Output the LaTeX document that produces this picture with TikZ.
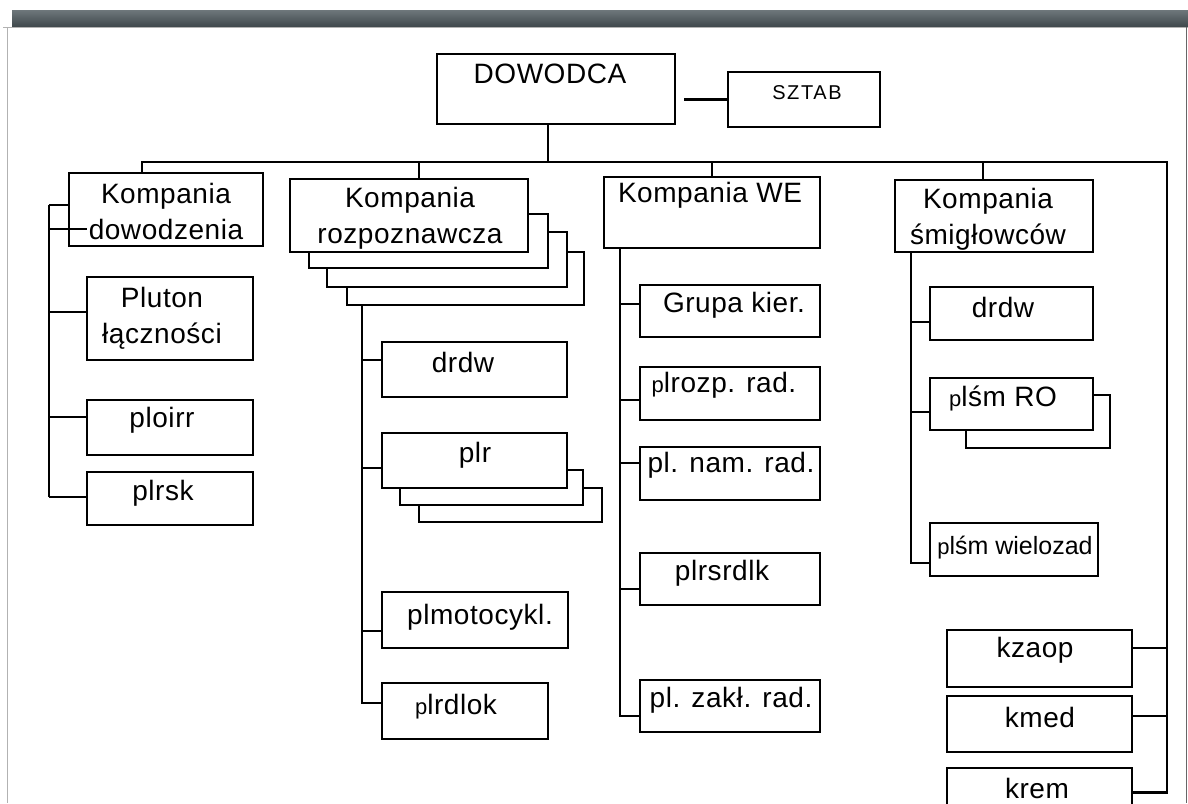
\documentclass[tikz,border=0pt]{standalone}
\usepackage{fontspec}
\setmainfont{Liberation Sans}[LetterSpace=2]
\usetikzlibrary{fit}
\definecolor{bandtop}{HTML}{6E777B}
\definecolor{bandbot}{HTML}{3E474B}
% small lowercase p used in a few unit abbreviations
\newcommand\smallp{{\fontsize{22}{22}\selectfont p}}
\begin{document}
\begin{tikzpicture}[x=1pt,y=-1pt,
  box/.style={draw, line width=2.2pt, fill=white, inner sep=0pt},
  lbl/.style={inner sep=0pt, align=center, font=\fontsize{28}{36}\selectfont},
  wire/.style={line width=2.2pt},
  rim/.style={line width=0.8pt, draw=gray!60}]
\useasboundingbox (0,0) rectangle (1188,803);
\clip (0,0) rectangle (1188,803);

% page header band and frame
\shade[top color=bandtop, bottom color=bandbot] (12,10) rectangle (1188,27);
\draw[rim] (3,27) -- (1188,27);
\draw[rim] (7,27) -- (7,803);
\draw[rim, draw=gray!80!black] (1186,27) -- (1186,803);

% commander and staff
\node[box, fit={(437,54) (675,124)}] (dow) {};
\node[lbl] (dowT) at (550,74) {DOWODCA};
\node[box, fit={(728,72) (880,127)}] (sztab) {};
\node[lbl, font=\fontsize{20}{20}\selectfont\addfontfeature{LetterSpace=8}] (sztabT) at (807,93) {SZTAB};
\draw[wire] ([xshift=8pt]dow.east |- sztab.west) -- (sztab.west);

% companies
\node[box, fit={(69,173) (263,246)}] (kd) {};
\node[lbl] (kdT) at (166,211) {Kompania\\dowodzenia};

\node[box, fit={(347,252) (584,305)}] (krs3) {};
\node[box, fit={(327,232) (567,287)}] (krs2) {};
\node[box, fit={(309,214) (548,268)}] (krs1) {};
\node[box, fit={(290,179) (528,252)}] (kr) {};
\node[lbl] (krT) at (410,218) {Kompania\\rozpoznawcza};

\node[box, fit={(604,177) (820,248)}] (kwe) {};
\node[lbl] (kweT) at (710,195) {Kompania WE};

\node[box, fit={(895,180) (1093,252)}] (ks) {};
\node[lbl] (ksT) at (988,219) {Kompania\\śmigłowców};

% main distribution line
\draw[wire] ([xshift=-8pt]dow.south) -- ([xshift=-8pt]dow.south |- 0,162);
\node[box, fit={(947,630) (1132,687)}] (kzaop) {};
\node[lbl] (kzaopT) at (1035,650) {kzaop};
\node[box, fit={(947,696) (1132,752)}] (kmed) {};
\node[lbl] (kmedT) at (1040,717) {kmed};
\node[box, fit={(947,768) (1132,815)}] (krem) {};
\node[lbl] (kremT) at (1037,788) {krem};
\draw[wire] ([xshift=-24pt]kd.north) |- (1167,162) |- ([yshift=-0.5pt]krem.east |- 0,792);
\draw[wire] ([yshift=10.5pt]kzaop.east) -- ++(35,0);
\draw[wire] ([yshift=8pt]kmed.east) -- ++(35,0);
\draw[wire] ([xshift=10pt]kr.north) -- ++(0,-17);
\draw[wire] (kwe.north) -- ++(0,-15);
\draw[wire] ([xshift=-11pt]ks.north) -- ++(0,-18);

% command company
\node[box, fit={(87,277) (253,360)}] (plu) {};
\node[lbl] (pluT) at (162,318) {Pluton\\łączności};
\node[box, fit={(87,400) (253,455)}] (ploirr) {};
\node[lbl] (ploirrT) at (162,420) {ploirr};
\node[box, fit={(87,472) (253,525)}] (plrsk) {};
\node[lbl] (plrskT) at (163,493) {plrsk};
\draw[wire] ([xshift=-19pt,yshift=4.5pt]kd.west) -- ([yshift=4.5pt]kd.west);
\draw[wire] ([xshift=-19pt,yshift=4.5pt]kd.west) -- ++(0,292);
\draw[wire] ([xshift=-19pt,yshift=-19.5pt]kd.west) -- ++(38,0);
\draw[wire] ([yshift=6.5pt]plu.west) -- ++(-37,0);
\draw[wire] ([yshift=10.5pt]ploirr.west) -- ++(-37,0);
\draw[wire] ([yshift=1.5pt]plrsk.west) -- ++(-37,0);

% reconnaissance company
\node[box, fit={(382,342) (567,397)}] (drdwA) {};
\node[lbl] (drdwAT) at (463,362) {drdw};
\node[box, fit={(419,488) (602,522)}] (plrs2) {};
\node[box, fit={(400,470) (583,505)}] (plrs1) {};
\node[box, fit={(382,433) (567,488)}] (plr) {};
\node[lbl] (plrT) at (475,455) {plr};
\node[box, fit={(382,592) (568,648)}] (plmoto) {};
\node[lbl] (plmotoT) at (480,617) {plmotocykl.};
\node[box, fit={(382,683) (548,739)}] (plrdlok) {};
\node[lbl] (plrdlokT) at (456,707) {\smallp lrdlok};
\draw[wire] ([xshift=16pt]krs3.south west) -- ++(0,398);
\draw[wire] ([yshift=9.5pt]drdwA.west) -- ++(-19,0);
\draw[wire] ([yshift=-7.5pt]plr.west) -- ++(-19,0);
\draw[wire] ([yshift=-11pt]plmoto.west) -- ++(-19,0);
\draw[wire] ([yshift=8pt]plrdlok.west) -- ++(-19,0);

% electronic warfare company
\node[box, fit={(640,285) (820,337)}] (grupa) {};
\node[lbl] (grupaT) at (734,305) {Grupa kier.};
\node[box, fit={(640,367) (820,420)}] (plrozp) {};
\node[lbl] (plrozpT) at (724,385) {\smallp lrozp. rad.};
\node[box, fit={(640,447) (820,500)}] (plnam) {};
\node[lbl] (plnamT) at (731,465) {pl. nam. rad.};
\node[box, fit={(640,553) (820,605)}] (plrsrdlk) {};
\node[lbl] (plrsrdlkT) at (722,573) {plrsrdlk};
\node[box, fit={(640,680) (820,732)}] (plzakl) {};
\node[lbl] (plzaklT) at (731,700) {pl. zakł. rad.};
\draw[wire] ([xshift=17pt]kwe.south west) -- ++(0,468);
\draw[wire] ([yshift=7pt]grupa.west) -- ++(-19,0);
\draw[wire] ([yshift=-6.5pt]plrozp.west) -- ++(-19,0);
\draw[wire] ([yshift=10.5pt]plnam.west) -- ++(-19,0);
\draw[wire] ([yshift=-10pt]plrsrdlk.west) -- ++(-19,0);
\draw[wire] ([yshift=-10pt]plzakl.west) -- ++(-19,0);

% helicopter company
\node[box, fit={(930,287) (1093,340)}] (drdwB) {};
\node[lbl] (drdwBT) at (1003,307) {drdw};
\node[box, fit={(966,395) (1110,448)}] (plsmros) {};
\node[box, fit={(930,378) (1093,430)}] (plsmro) {};
\node[lbl] (plsmroT) at (1003,398) {\smallp lśm RO};
\node[box, fit={(930,523) (1098,576)}] (plsmw) {};
\node[lbl, font=\fontsize{25}{30}\selectfont\addfontfeature{LetterSpace=0}] (plsmwT) at (1015,548) {\smallp lśm wielozad};
\draw[wire] ([xshift=17pt]ks.south west) -- ++(0,311);
\draw[wire] ([yshift=-8.5pt]drdwB.west) -- ++(-18,0);
\draw[wire] ([yshift=-8pt]plsmro.west) -- ++(-18,0);
\draw[wire] ([yshift=-13.5pt]plsmw.west) -- ++(-18,0);
\end{tikzpicture}
\end{document}
